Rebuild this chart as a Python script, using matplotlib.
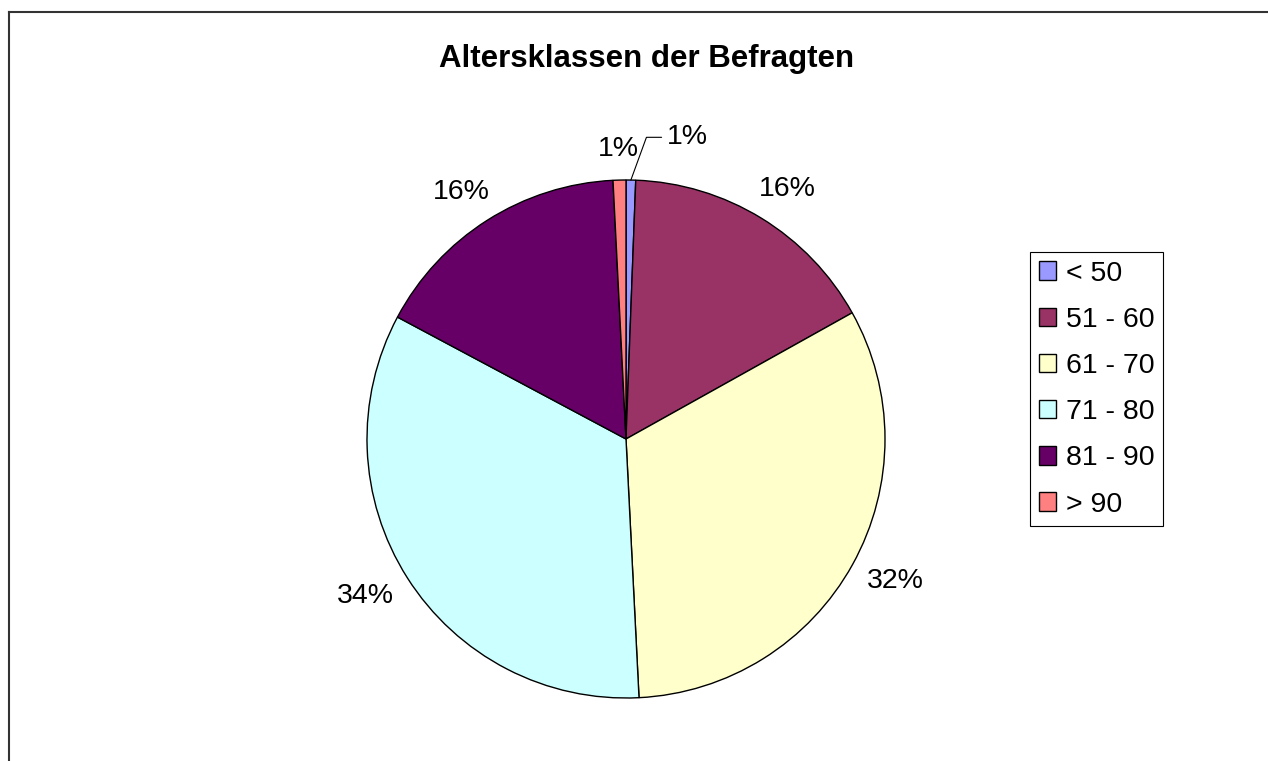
import matplotlib.pyplot as plt
from matplotlib.lines import Line2D
import numpy as np

plt.rcParams['font.family'] = ['Liberation Sans', 'DejaVu Sans']

# Altersklassen (Anteile in %)
categories = ['< 50', '51 - 60', '61 - 70', '71 - 80', '81 - 90', '> 90']
shares = [0.6, 16.3, 32.3, 33.6, 16.4, 0.8]
colors = ['#9999FF', '#993366', '#FFFFCC', '#CCFFFF', '#660066', '#FF8080']
title = 'Altersklassen der Befragten'

W, H = 1268, 761
fig = plt.figure(figsize=(W / 100, H / 100), dpi=100)

# chart frame (cut off at right/bottom like the original)
fig.add_artist(Line2D([8.5 / W, 8.5 / W], [0, 1 - 11.5 / H], color='#333333', lw=1.5,
                      transform=fig.transFigure))
fig.add_artist(Line2D([8.5 / W, 1], [1 - 11.5 / H, 1 - 11.5 / H], color='#333333', lw=1.5,
                      transform=fig.transFigure))

cx, cy, r = 626, 439, 259
ax = fig.add_axes([(cx - r) / W, (H - cy - r) / H, 2 * r / W, 2 * r / H])

wedges, _, autotexts = ax.pie(shares, colors=colors, startangle=90, counterclock=False,
                              autopct='%.0f%%',
                              wedgeprops=dict(edgecolor='black', linewidth=1.0),
                              textprops=dict(fontsize=20.5))
ax.set_xlim(-1, 1)
ax.set_ylim(-1, 1)
ax.set_aspect('equal')
ax.axis('off')

# labels sit outside the pie, a bit further out sideways
for w, t in zip(wedges, autotexts):
    a = np.deg2rad((w.theta1 + w.theta2) / 2)
    t.set_position((1.19 * np.cos(a), 1.13 * np.sin(a)))

# first small slice: label with leader line
w0 = wedges[0]
a0 = np.deg2rad((w0.theta1 + w0.theta2) / 2)
autotexts[0].set_visible(False)
ax.annotate(autotexts[0].get_text(), xy=(np.cos(a0), np.sin(a0)),
            xytext=(np.cos(a0) + 0.14, np.sin(a0) + 0.165), fontsize=20.5,
            ha='left', va='center',
            arrowprops=dict(arrowstyle='-', color='black', lw=0.8,
                            connectionstyle='angle,angleA=0,angleB=70,rad=0',
                            shrinkA=2, shrinkB=0))

# last small slice: closer to the pie
w5 = wedges[5]
a5 = np.deg2rad((w5.theta1 + w5.theta2) / 2)
autotexts[5].set_position((np.cos(a5) * 1.12, np.sin(a5) * 1.12))

fig.text(647 / W, 1 - 59 / H, title, ha='center', va='center', fontsize=22.5,
         fontweight='bold')

leg = fig.legend(wedges, categories, loc='upper left',
                 bbox_to_anchor=(1030 / W, 1 - 252 / H), fontsize=20.5,
                 frameon=True, fancybox=False, edgecolor='black', framealpha=1,
                 handlelength=0.62, handleheight=0.62, handletextpad=0.35,
                 labelspacing=0.71, borderpad=0.3, borderaxespad=0)
leg.get_frame().set_linewidth(0.8)

fig.savefig('out.png', dpi=100)
